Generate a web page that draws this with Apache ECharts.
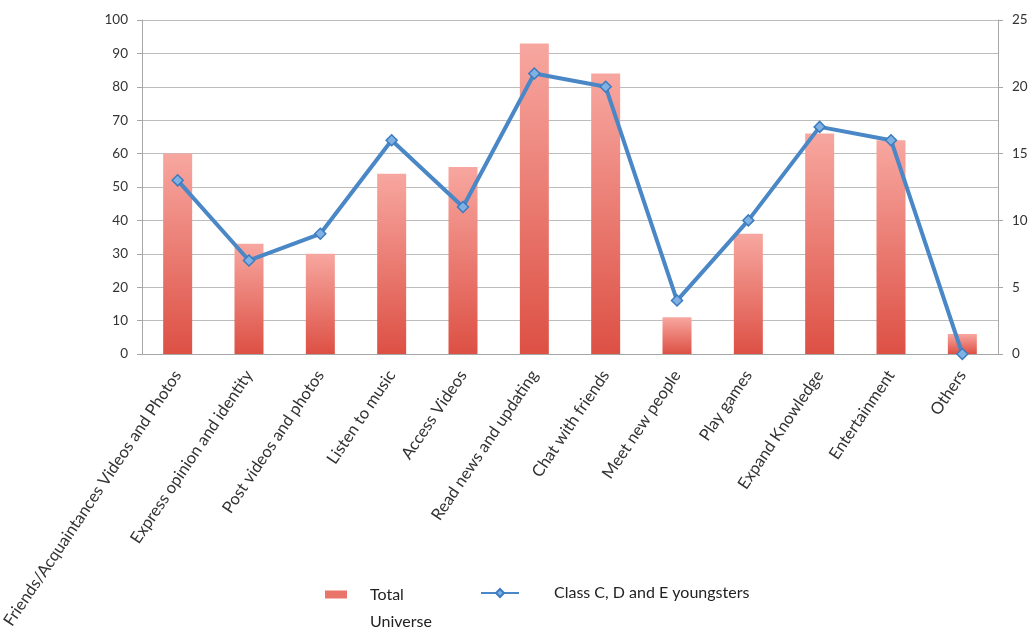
<!DOCTYPE html>
<html>
<head>
<meta charset="utf-8">
<script src="https://cdn.jsdelivr.net/npm/echarts@6/dist/echarts.min.js"></script>
<style>html,body{margin:0;padding:0;background:#fff}#c{width:1031px;height:632px}</style>
</head>
<body>
<div id="c"></div>
<script>
const categories = ["Friends/Acquaintances Videos and Photos","Express opinion and identity","Post videos and photos","Listen to music","Access Videos","Read news and updating","Chat with friends","Meet new people","Play games","Expand Knowledge","Entertainment","Others"];
const totalUniverse = [60, 33, 30, 54, 56, 93, 84, 11, 36, 66, 64, 6];
const classCDE = [13, 7, 9, 16, 11, 21, 20, 4, 10, 17, 16, 0];
const leftTicks = {min: 0, max: 100, interval: 10};
const rightTicks = {min: 0, max: 25, interval: 5};
const seriesNames = ['Total Universe', 'Class C, D and E youngsters'];

const chart = echarts.init(document.getElementById('c'));
const font = 'Lato, "Open Sans", sans-serif';
chart.setOption({
  animation: false,
  backgroundColor: '#fff',
  grid: {left: 142, right: 33, top: 20, bottom: 278, outerBoundsMode: 'none', containLabel: false},
  legend: [{
    left: 320, top: 576,
    itemWidth: 40, itemHeight: 35,
    data: [{name: seriesNames[0], icon: 'path://M0,0H22V8H0Z M0,35H40', itemStyle: {color: '#e8746a'}}],
    formatter: function () { return 'Total\nUniverse'; },
    textStyle: {fontFamily: font, fontSize: 16, color: '#222', lineHeight: 27}
  }, {
    left: 475, top: 578,
    itemWidth: 38, itemHeight: 10,
    data: [{name: seriesNames[1]}],
    textStyle: {fontFamily: font, fontSize: 16, color: '#222', lineHeight: 20, padding: [0, 0, 0, 30]}
  }],
  xAxis: {
    type: 'category', data: categories,
    axisLine: {lineStyle: {color: '#a6a6a6'}},
    axisTick: {lineStyle: {color: '#a6a6a6'}, length: 5},
    axisLabel: {rotate: 56, interval: 0, fontFamily: font, fontSize: 16.5, color: '#333', margin: 18, padding: [0, 0, 20, 0]}
  },
  yAxis: [{
    type: 'value', min: leftTicks.min, max: leftTicks.max, interval: leftTicks.interval,
    axisLine: {show: true, lineStyle: {color: '#a6a6a6'}},
    axisTick: {show: true, length: 5, lineStyle: {color: '#a6a6a6'}},
    axisLabel: {fontFamily: font, fontSize: 13.5, color: '#333', margin: 14},
    splitLine: {lineStyle: {color: '#bdbdbd', width: 1}}
  }, {
    type: 'value', min: rightTicks.min, max: rightTicks.max, interval: rightTicks.interval,
    axisLine: {show: true, lineStyle: {color: '#a6a6a6'}},
    axisTick: {show: true, length: 5, lineStyle: {color: '#a6a6a6'}},
    axisLabel: {fontFamily: font, fontSize: 13.5, color: '#333', margin: 14},
    splitLine: {show: false}
  }],
  series: [{
    name: seriesNames[0], type: 'bar', data: totalUniverse, yAxisIndex: 0,
    barWidth: 29,
    itemStyle: {color: new echarts.graphic.LinearGradient(0, 0, 0, 1, [
      {offset: 0, color: '#f7a7a0'}, {offset: 1, color: '#dd5044'}
    ])}
  }, {
    name: seriesNames[1], type: 'line', data: classCDE, yAxisIndex: 1,
    symbol: 'diamond', symbolSize: 11,
    lineStyle: {color: '#4a87c6', width: 4},
    itemStyle: {color: '#7fb1e2', borderColor: '#3c7bc0', borderWidth: 1.5}
  }]
});
</script>
</body>
</html>
